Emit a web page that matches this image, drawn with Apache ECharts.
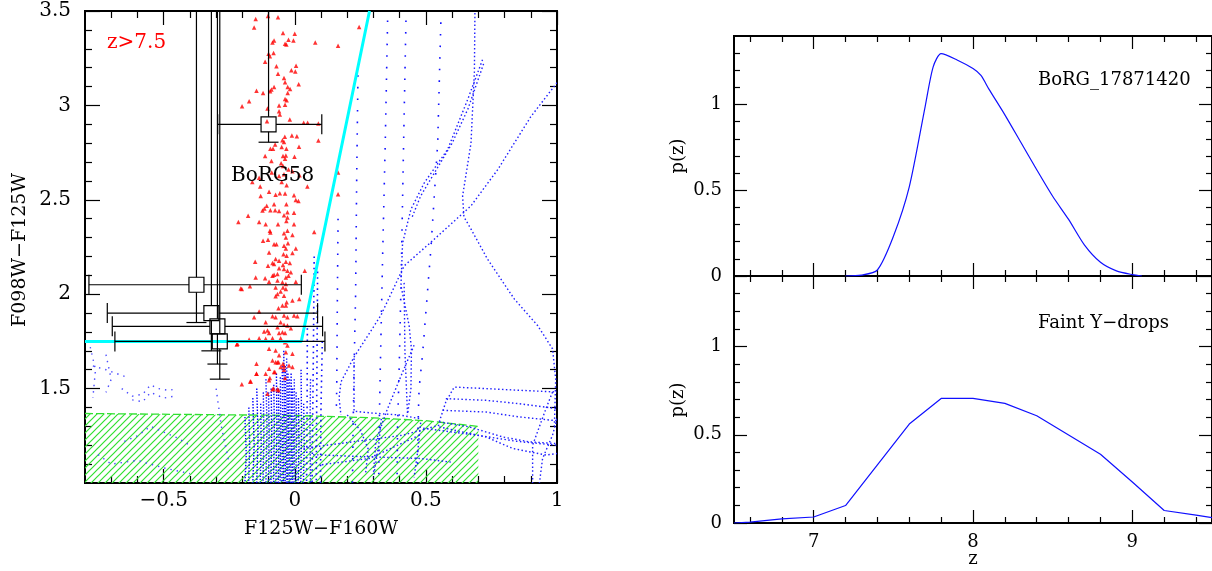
<!DOCTYPE html>
<html><head><meta charset="utf-8">
<script src="https://cdn.jsdelivr.net/npm/echarts@6/dist/echarts.min.js"></script>
<style>html,body{margin:0;padding:0;background:#fff}#c{width:1212px;height:571px}</style>
</head><body><div id="c"></div>
<script>
// ---------------- DATA ----------------
// Left panel: colour-colour diagram
const ccXRange = [-0.8, 1.0];
const ccYRange = [1.0, 3.5];
const ccXMajor = [-0.5, 0, 0.5, 1];
const ccXMinor = [-0.7, -0.6, -0.4, -0.3, -0.2, -0.1, 0.1, 0.2, 0.3, 0.4, 0.6, 0.7, 0.8, 0.9];
const ccYMajor = [1.5, 2, 2.5, 3, 3.5];
const ccYMinor = [1.1, 1.2, 1.3, 1.4, 1.6, 1.7, 1.8, 1.9, 2.1, 2.2, 2.3, 2.4, 2.6, 2.7, 2.8, 2.9, 3.1, 3.2, 3.3, 3.4];

// Red triangles: simulated z>7.5 galaxies [F125W-F160W, F098W-F125W]
const redCandidates = [
[-0.149,3.457],[-0.102,3.474],[-0.064,3.467],[-0.155,3.413],[-0.045,3.383],[0.000,3.379],[-0.024,3.348],[-0.005,3.344],
[-0.079,3.344],[-0.085,3.333],[-0.037,3.326],[-0.032,3.323],[0.078,3.333],[0.165,3.316],[0.2455,3.415],[-0.100,3.274],
[-0.081,3.277],[-0.095,3.260],[-0.113,3.231],[-0.070,3.207],[0.005,3.210],[-0.013,3.186],[0.002,3.180],[-0.064,3.168],
[-0.041,3.145],[-0.037,3.122],[0.015,3.112],[-0.027,3.098],[-0.018,3.087],[-0.079,3.098],[-0.089,3.084],[-0.094,3.075],
[-0.146,3.078],[-0.121,3.066],[-0.027,3.066],[-0.037,3.034],[-0.031,3.027],[-0.174,3.022],[-0.037,3.004],[-0.060,2.999],
[-0.201,2.996],[-0.104,2.983],[-0.060,2.969],[-0.057,2.952],[-0.019,2.925],[-0.106,2.916],[0.034,2.908],[0.049,2.908],
[0.090,2.904],[-0.011,2.841],[-0.038,2.834],[0.008,2.837],[-0.047,2.816],[-0.041,2.806],[-0.075,2.793],[0.090,2.814],
[-0.050,2.779],[-0.093,2.770],[-0.083,2.770],[0.016,2.781],[-0.032,2.770],[-0.113,2.732],[-0.045,2.732],[-0.034,2.735],
[-0.037,2.718],[-0.001,2.728],[-0.052,2.693],[-0.045,2.679],[-0.089,2.705],[-0.024,2.661],[-0.060,2.626],[-0.041,2.635],
[-0.088,2.644],[0.018,2.630],[-0.009,2.651],[-0.162,2.594],[-0.136,2.617],[-0.050,2.594],[-0.031,2.577],[-0.132,2.570],
[0.048,2.570],[-0.098,2.543],[-0.073,2.527],[-0.057,2.535],[-0.037,2.533],[-0.003,2.524],[-0.130,2.520],[0.004,2.499],
[0.014,2.494],[-0.032,2.476],[-0.079,2.476],[-0.107,2.468],[-0.116,2.454],[-0.123,2.443],[-0.093,2.445],[-0.075,2.445],
[-0.060,2.441],[-0.028,2.434],[-0.003,2.432],[0.165,2.644],[0.165,2.530],
[-0.178,2.415],[-0.041,2.418],[-0.028,2.406],[-0.032,2.388],[-0.215,2.383],[-0.136,2.383],[-0.111,2.371],[-0.064,2.371],
[-0.003,2.371],[-0.095,2.336],[-0.093,2.327],[-0.041,2.323],[-0.028,2.336],[-0.009,2.313],[-0.034,2.300],[0.074,2.330],
[-0.121,2.283],[-0.102,2.288],[-0.079,2.265],[-0.070,2.265],[-0.041,2.256],[-0.026,2.270],[0.004,2.242],[-0.034,2.242],
[-0.098,2.221],[-0.043,2.212],[-0.031,2.204],[-0.009,2.218],[-0.073,2.186],[-0.060,2.177],[-0.085,2.165],[-0.151,2.172],
[-0.034,2.172],[-0.045,2.154],[-0.019,2.165],[-0.102,2.151],[-0.079,2.160],[-0.060,2.137],[-0.041,2.133],[-0.028,2.124],
[-0.015,2.116],[0.038,2.124],[-0.079,2.103],[-0.066,2.107],[-0.085,2.098],[-0.024,2.098],[-0.034,2.089],[-0.149,2.089],
[-0.113,2.084],[-0.066,2.072],[-0.098,2.066],[0.004,2.066],[-0.047,2.063],[-0.034,2.054],[-0.171,2.042],[-0.073,2.036],
[-0.045,2.036],[-0.034,2.028],[-0.202,2.028],[-0.054,2.014],[-0.066,2.001],[-0.073,1.989],[-0.041,1.992],[0.017,1.975],
[-0.009,1.966],[-0.031,1.957],[-0.047,1.940],[-0.034,1.940],[-0.062,1.926],[-0.136,1.908],[-0.155,1.878],[-0.085,1.883],
[-0.073,1.878],[-0.041,1.887],[-0.028,1.878],[-0.003,1.887],[0.010,1.883],[-0.111,1.852],[-0.054,1.852],[-0.041,1.838],
[-0.028,1.834],[-0.066,1.825],[-0.015,1.820],[-0.104,1.808],[-0.117,1.802],[-0.098,1.795],[-0.060,1.795],[-0.047,1.799],
[-0.037,1.795],[-0.136,1.767],[-0.111,1.764],[-0.085,1.767],[-0.054,1.767],[-0.219,1.737],[-0.037,1.746],[-0.028,1.728],
[-0.098,1.711],[-0.073,1.702],[-0.034,1.693],[-0.009,1.684],[-0.060,1.676],[-0.085,1.649],[-0.073,1.640],[-0.062,1.640],
[-0.045,1.632],[-0.022,1.623],[-0.146,1.632],[-0.098,1.605],[-0.054,1.614],[-0.041,1.600],[-0.146,1.579],[-0.079,1.588],
[-0.095,1.556],[-0.037,1.556],[-0.168,1.538],[-0.202,1.523],[-0.098,1.544],[-0.081,1.500],[-0.062,1.491],[-0.104,1.473],
[-0.170,1.538],[-0.146,1.579],[-0.085,1.496],[-0.066,1.496],[-0.111,1.579],[-0.076,1.588],[-0.066,1.640],[-0.041,1.619],
[-0.009,1.614],[-0.206,2.030],[-0.174,1.760],[-0.221,1.734]
];

// Cyan selection window
const selectionX = [-0.8, 0.025, 0.285];
const selectionY = [1.75, 1.75, 3.5];

// Green hatched interloper region outline
const hatchX = [-0.8, -0.8, 0.0, 0.3, 0.5, 0.7, 0.7];
const hatchY = [1.0, 1.368, 1.358, 1.345, 1.33, 1.30, 1.0];

// BoRG candidates with error bars
const candX    = [-0.100, -0.375, -0.318, -0.295, -0.286];
const candY    = [2.90, 2.05, 1.90, 1.83, 1.75];
const candXLow = [-0.294, -0.785, -0.715, -0.696, -0.686];
const candXHigh= [0.103, 0.025, 0.087, 0.106, 0.115];
const candYLow = [2.805, 1.85, 1.70, 1.63, 1.55];
const candYHigh= [3.5, 3.5, 3.5, 3.5, 3.5];

// Blue model tracks, grouped by dot density
const sparseTracks = [
  [[0.165,2.40],[0.162,1.9],[0.160,1.5],[0.158,1.36]],
  [[0.241,3.16],[0.236,2.6],[0.232,2.0],[0.226,1.6],[0.222,1.25],[0.220,1.0]],
  [[0.354,3.45],[0.345,2.8],[0.335,2.2],[0.326,1.6],[0.322,1.3],[0.320,1.0]],
  [[0.424,3.45],[0.415,2.8],[0.405,2.04],[0.398,1.6],[0.392,1.3],[0.390,1.0]],
  [[0.557,3.44],[0.545,2.8],[0.519,2.24],[0.487,1.676],[0.474,1.5],[0.470,1.3],[0.468,1.05]]
];
const midTracks = [
  [[0.087,2.12],[0.085,1.7],[0.083,1.3],[0.082,1.0]],
  [[0.074,2.20],[0.071,1.7],[0.068,1.3],[0.066,1.0]],
  [[0.048,1.82],[0.047,1.4],[0.045,1.0]],
  [[0.105,1.75],[0.100,1.4],[0.098,1.0]]
];
const denseTracks = [
  [[0.687,3.49],[0.685,3.18],[0.672,2.80],[0.640,2.52],[0.645,2.41],[0.672,2.345],[0.735,2.186],[0.837,1.975],[0.926,1.834],[0.983,1.711],[0.995,1.55],[0.990,1.30]],
  [[0.716,3.242],[0.659,3.03],[0.583,2.767],[0.494,2.59],[0.443,2.45],[0.411,2.27],[0.405,2.045],[0.436,1.834],[0.445,1.71],[0.443,1.5],[0.430,1.36]],
  [[0.720,3.22],[0.660,2.98],[0.600,2.80],[0.540,2.66],[0.480,2.52],[0.445,2.40]],
  [[1.0,3.12],[0.900,2.94],[0.774,2.66],[0.672,2.468],[0.519,2.275],[0.417,2.15],[0.328,1.887],[0.226,1.667],[0.176,1.535],[0.169,1.45],[0.176,1.36]],
  [[0.455,1.73],[0.400,1.55],[0.350,1.38],[0.309,1.22],[0.300,1.05]],
  [[0.226,1.66],[0.226,1.38],[0.300,1.37],[0.400,1.36],[0.480,1.34]],
  [[0.417,2.06],[0.420,1.7],[0.430,1.36]],
  [[0.551,1.324],[0.576,1.429],[0.608,1.508],[0.729,1.500],[0.856,1.491],[1.0,1.482]],
  [[0.576,1.447],[0.729,1.438],[0.856,1.420],[1.0,1.394]],
  [[0.564,1.385],[0.729,1.376],[0.856,1.350],[0.983,1.332],[1.0,1.33]],
  [[0.551,1.324],[0.665,1.297],[0.793,1.244],[0.894,1.218],[1.0,1.209]],
  [[0.551,1.297],[0.729,1.244],[0.831,1.183],[0.958,1.148],[1.0,1.156]],
  [[0.551,1.306],[0.411,1.253],[0.220,1.218],[0.029,1.183]],
  [[0.475,1.253],[0.284,1.13],[0.093,1.095]],
  [[0.983,1.482],[0.958,1.394],[0.907,1.20],[0.907,1.0]],
  [[1.0,1.341],[0.983,1.253],[0.945,1.130],[0.933,1.0]],
  [[0.33,1.34],[0.32,1.2],[0.30,1.03]],
  [[0.48,1.32],[0.47,1.18],[0.455,1.03]],
  [[0.49,1.29],[0.60,1.27],[0.71,1.25],[0.85,1.22],[1.0,1.20]],
  [[0.07,1.15],[0.25,1.14],[0.48,1.13],[0.60,1.11]],
  [[0.20,1.36],[0.25,1.28],[0.28,1.18],[0.27,1.05]]
];
const cloudTracks = [
  [[-0.19,1.35],[-0.185,1.15],[-0.19,1.0]],
  [[-0.175,1.40],[-0.172,1.2],[-0.176,1.0]],
  [[-0.16,1.45],[-0.155,1.2],[-0.16,1.0]],
  [[-0.145,1.50],[-0.14,1.25],[-0.145,1.0]],
  [[-0.13,1.42],[-0.128,1.2],[-0.132,1.0]],
  [[-0.12,1.48],[-0.118,1.25],[-0.121,1.0]],
  [[-0.11,1.55],[-0.106,1.3],[-0.11,1.0]],
  [[-0.10,1.48],[-0.098,1.25],[-0.10,1.0]],
  [[-0.09,1.50],[-0.088,1.28],[-0.091,1.0]],
  [[-0.08,1.52],[-0.078,1.3],[-0.081,1.0]],
  [[-0.07,1.58],[-0.068,1.3],[-0.072,1.0]],
  [[-0.062,1.50],[-0.06,1.25],[-0.063,1.0]],
  [[-0.055,1.56],[-0.053,1.3],[-0.056,1.0]],
  [[-0.048,1.62],[-0.046,1.35],[-0.049,1.0]],
  [[-0.042,1.70],[-0.04,1.4],[-0.043,1.0]],
  [[-0.036,1.62],[-0.034,1.3],[-0.037,1.0]],
  [[-0.031,1.66],[-0.029,1.35],[-0.032,1.0]],
  [[-0.026,1.58],[-0.024,1.3],[-0.027,1.0]],
  [[-0.02,1.55],[-0.018,1.3],[-0.021,1.0]],
  [[-0.014,1.58],[-0.012,1.3],[-0.015,1.0]],
  [[-0.008,1.50],[-0.006,1.25],[-0.009,1.0]],
  [[-0.002,1.55],[0.0,1.3],[-0.003,1.0]],
  [[0.005,1.48],[0.007,1.25],[0.004,1.0]],
  [[0.014,1.45],[0.016,1.2],[0.013,1.0]],
  [[0.024,1.60],[0.026,1.3],[0.023,1.0]],
  [[0.034,1.42],[0.036,1.2],[0.033,1.0]],
  [[0.06,1.55],[0.058,1.3],[0.06,1.0]]
];
const faintTracks = [
  [[-0.78,1.72],[-0.76,1.60],[-0.77,1.45]],
  [[-0.72,1.68],[-0.70,1.55],[-0.72,1.48]],
  [[-0.66,1.50],[-0.62,1.46],[-0.58,1.47],[-0.55,1.52],[-0.52,1.50],[-0.48,1.49],[-0.45,1.50]],
  [[-0.62,1.44],[-0.58,1.43],[-0.55,1.48],[-0.50,1.45],[-0.46,1.46]],
  [[-0.77,1.62],[-0.72,1.60],[-0.68,1.58],[-0.64,1.56]],
  [[-0.65,1.22],[-0.60,1.25],[-0.55,1.30],[-0.50,1.27],[-0.45,1.24],[-0.40,1.20]],
  [[-0.75,1.15],[-0.70,1.10],[-0.60,1.12],[-0.50,1.08],[-0.40,1.05]],
  [[-0.30,1.50],[-0.28,1.30],[-0.25,1.10]]
];

// Right panels: redshift probability distributions
const zRange = [6.5, 9.5];
const zMajor = [7, 8, 9];
const zMinor = [6.6, 6.8, 7.2, 7.4, 7.6, 7.8, 8.2, 8.4, 8.6, 8.8, 9.2, 9.4];
const pRange = [0, 1.4];
const pMajor = [0, 0.5, 1];
const pMinor = [0.1, 0.2, 0.3, 0.4, 0.6, 0.7, 0.8, 0.9, 1.1, 1.2, 1.3];

const borgZ = [7.2, 7.3, 7.4, 7.5, 7.6, 7.7, 7.75, 7.8, 7.9, 8.0, 8.05, 8.1, 8.2, 8.3, 8.4, 8.5, 8.6, 8.7, 8.8, 8.9, 9.0, 9.06];
const borgP = [0.0, 0.005, 0.035, 0.23, 0.52, 0.99, 1.22, 1.297, 1.26, 1.21, 1.17, 1.09, 0.94, 0.78, 0.62, 0.465, 0.33, 0.18, 0.08, 0.03, 0.008, 0.0];

const faintZ = [6.5, 6.6, 6.8, 7.0, 7.2, 7.4, 7.6, 7.8, 8.0, 8.2, 8.4, 8.6, 8.8, 9.0, 9.2, 9.4, 9.5];
const faintP = [0.0, 0.005, 0.023, 0.034, 0.099, 0.33, 0.561, 0.706, 0.706, 0.678, 0.608, 0.499, 0.390, 0.232, 0.071, 0.045, 0.03];

// ---------------- CHART ----------------
const FONT = 'DejaVu Serif';
const fmt = v => '{t|' + String(+(+v).toFixed(2)).replace('-', '\u2212') + '}';

function axisSet(dim, gridIndex, range, major, minor, lab, tickMaj, tickMin, fontSize, margin) {
  const pos = dim === 'x' ? ['bottom', 'top'] : ['left', 'right'];
  const out = [];
  pos.forEach((p, k) => {
    [[major, tickMaj, k === 0 && lab], [minor, tickMin, false]].forEach(([vals, len, show]) => {
      out.push({
        type: 'value', gridIndex, position: p, min: range[0], max: range[1],
        axisLine: { show: false, onZero: false }, splitLine: { show: false },
        axisTick: { show: true, inside: true, length: len, customValues: vals, lineStyle: { color: '#000', width: 1.2 } },
        axisLabel: {
          show: !!show, customValues: vals, formatter: fmt, color: '#000',
          fontFamily: FONT, fontSize, margin,
          rich: { t: { fontFamily: FONT, fontSize, color: '#000' } }
        }
      });
    });
  });
  return out;
}

const xAxes = [
  ...axisSet('x', 0, ccXRange, ccXMajor, ccXMinor, true, 14, 7, 20, 8),
  ...axisSet('x', 1, zRange, zMajor, zMinor, false, 13, 6, 18, 10),
  ...axisSet('x', 2, zRange, zMajor, zMinor, true, 13, 6, 18, 10)
];
const yAxes = [
  ...axisSet('y', 0, ccYRange, ccYMajor, ccYMinor, true, 15, 7, 20, 14),
  ...axisSet('y', 1, pRange, pMajor, pMinor, true, 13, 6, 18, 12),
  ...axisSet('y', 2, pRange, pMajor, pMinor, true, 13, 6, 18, 12)
];

// hatch pattern
const pat = document.createElement('canvas');
pat.width = 7; pat.height = 7;
(function () {
  const g = pat.getContext('2d');
  g.strokeStyle = '#30e030'; g.lineWidth = 1.2;
  g.beginPath();
  g.moveTo(-1, 8); g.lineTo(8, -1);
  g.moveTo(-1, 1); g.lineTo(1, -1);
  g.moveTo(6, 8); g.lineTo(8, 6);
  g.stroke();
})();

function trackSeries(name, tracks, color, dash, width) {
  return {
    type: 'custom', name, xAxisIndex: 0, yAxisIndex: 0, z: 2, clip: true, silent: true,
    data: tracks.map(t => t[0]),
    renderItem: (params, api) => ({
      type: 'polyline',
      shape: { points: tracks[params.dataIndex].map(p => api.coord(p)) },
      style: { stroke: color, fill: null, lineWidth: width, lineDash: dash }
    })
  };
}

const chart = echarts.init(document.getElementById('c'), null, { renderer: 'canvas' });
chart.setOption({
  backgroundColor: '#fff',
  animation: false,
  textStyle: { fontFamily: FONT, color: '#000' },
  grid: [
    { left: 85, top: 11, width: 472, height: 472, show: true, borderColor: '#000', borderWidth: 2, backgroundColor: 'transparent' },
    { left: 734, top: 36, width: 479, height: 240, show: true, borderColor: '#000', borderWidth: 2, backgroundColor: 'transparent' },
    { left: 734, top: 276, width: 479, height: 247, show: true, borderColor: '#000', borderWidth: 2, backgroundColor: 'transparent' }
  ],
  xAxis: xAxes,
  yAxis: yAxes,
  series: [
    {
      type: 'custom', name: 'hatch', xAxisIndex: 0, yAxisIndex: 0, z: 1, silent: true,
      data: [[hatchX[0], hatchY[0]]],
      renderItem: (params, api) => {
        const pts = hatchX.map((x, i) => api.coord([x, hatchY[i]]));
        return {
          type: 'group', children: [
            { type: 'polygon', shape: { points: pts }, style: { fill: { image: pat, repeat: 'repeat' }, stroke: null } },
            { type: 'polyline', shape: { points: pts.slice(1, 6) }, style: { stroke: '#30e030', lineWidth: 1.3, lineDash: [8, 3], fill: null } }
          ]
        };
      }
    },
    trackSeries('faint', faintTracks, '#4a4aff', [1.4, 5], 1.4),
    trackSeries('cloud', cloudTracks, '#0000ff', [1.4, 1.6], 1.4),
    trackSeries('sparse', sparseTracks, '#1010ff', [1.6, 10], 1.6),
    trackSeries('mid', midTracks, '#1010ff', [1.6, 4], 1.6),
    trackSeries('dense', denseTracks, '#2020ff', [1.5, 2.4], 1.4),
    {
      type: 'scatter', name: 'z>7.5', xAxisIndex: 0, yAxisIndex: 0, z: 3,
      symbol: 'triangle', symbolSize: 4.5, itemStyle: { color: '#ff0000' },
      data: redCandidates
    },
    {
      type: 'line', name: 'selection', xAxisIndex: 0, yAxisIndex: 0, z: 4,
      showSymbol: false, lineStyle: { color: '#00ffff', width: 3 },
      data: selectionX.map((x, i) => [x, selectionY[i]])
    },
    {
      type: 'custom', name: 'BoRG', xAxisIndex: 0, yAxisIndex: 0, z: 5, clip: true,
      data: candX.map((x, i) => [x, candY[i], candXLow[i], candXHigh[i], candYLow[i], candYHigh[i]]),
      renderItem: (params, api) => {
        const x = api.value(0), y = api.value(1);
        const c = api.coord([x, y]);
        const l = api.coord([api.value(2), y]), r = api.coord([api.value(3), y]);
        const b = api.coord([x, api.value(4)]), t = api.coord([x, api.value(5)]);
        const h = 7.5, cap = 10;
        const st = { stroke: '#000', lineWidth: 1.2 };
        const ch = [
          { type: 'line', shape: { x1: l[0], y1: c[1], x2: c[0] - h, y2: c[1] }, style: st },
          { type: 'line', shape: { x1: c[0] + h, y1: c[1], x2: r[0], y2: c[1] }, style: st },
          { type: 'line', shape: { x1: c[0], y1: b[1], x2: c[0], y2: c[1] + h }, style: st },
          { type: 'line', shape: { x1: c[0], y1: c[1] - h, x2: c[0], y2: t[1] }, style: st },
          { type: 'line', shape: { x1: l[0], y1: c[1] - cap, x2: l[0], y2: c[1] + cap }, style: st },
          { type: 'line', shape: { x1: r[0], y1: c[1] - cap, x2: r[0], y2: c[1] + cap }, style: st },
          { type: 'line', shape: { x1: c[0] - cap, y1: b[1], x2: c[0] + cap, y2: b[1] }, style: st },
          { type: 'rect', shape: { x: c[0] - h, y: c[1] - h, width: 2 * h, height: 2 * h }, style: { stroke: '#000', fill: null, lineWidth: 1.2 } }
        ];
        return { type: 'group', children: ch };
      }
    },
    {
      type: 'line', name: 'BoRG_17871420', xAxisIndex: 4, yAxisIndex: 4, z: 3,
      showSymbol: false, smooth: 0.25, lineStyle: { color: '#1010ff', width: 1.2 },
      data: borgZ.map((z, i) => [z, borgP[i]])
    },
    {
      type: 'line', name: 'Faint Y-drops', xAxisIndex: 8, yAxisIndex: 8, z: 3,
      showSymbol: false, lineStyle: { color: '#1010ff', width: 1.2 },
      data: faintZ.map((z, i) => [z, faintP[i]])
    }
  ],
  graphic: [
    { type: 'text', x: 107, y: 42.5, style: { text: 'z>7.5', fill: '#ff0000', font: '20px "DejaVu Serif"', verticalAlign: 'middle' } },
    { type: 'text', x: 231, y: 175.5, z: 10, style: { text: 'BoRG58', fill: '#000', font: '20px "DejaVu Serif"', verticalAlign: 'middle' } },
    { type: 'text', x: 1038, y: 80.5, style: { text: 'BoRG_17871420', fill: '#000', font: '18px "DejaVu Serif"', verticalAlign: 'middle' } },
    { type: 'text', x: 1038, y: 323, style: { text: 'Faint Y\u2212drops', fill: '#000', font: '18px "DejaVu Serif"', verticalAlign: 'middle' } },
    { type: 'text', x: 321, y: 529, style: { text: 'F125W\u2212F160W', fill: '#000', font: '19px "DejaVu Serif"', align: 'center', verticalAlign: 'middle' } },
    { type: 'text', x: 20, y: 250, rotation: Math.PI / 2, style: { text: 'F098W\u2212F125W', fill: '#000', font: '19px "DejaVu Serif"', align: 'center', verticalAlign: 'middle' } },
    { type: 'text', x: 678, y: 156, rotation: Math.PI / 2, style: { text: 'p(z)', fill: '#000', font: '18px "DejaVu Serif"', align: 'center', verticalAlign: 'middle' } },
    { type: 'text', x: 678, y: 400, rotation: Math.PI / 2, style: { text: 'p(z)', fill: '#000', font: '18px "DejaVu Serif"', align: 'center', verticalAlign: 'middle' } },
    { type: 'text', x: 973, y: 559, style: { text: 'z', fill: '#000', font: '18px "DejaVu Serif"', align: 'center', verticalAlign: 'middle' } }
  ]
});
</script>
</body></html>
